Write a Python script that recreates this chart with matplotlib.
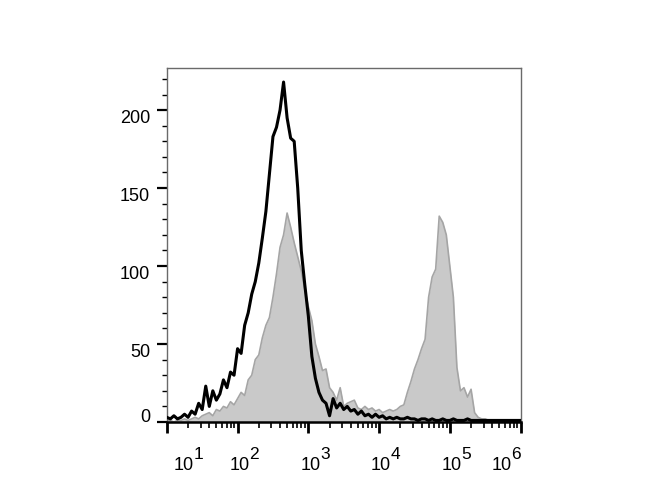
import numpy as np
import matplotlib
matplotlib.use("Agg")
import matplotlib.pyplot as plt
import matplotlib.transforms as mtransforms
from matplotlib.ticker import LogLocator, MultipleLocator, NullFormatter

plt.rcParams['font.family'] = ['Liberation Sans', 'DejaVu Sans']

# histogram channels: log10 fluorescence from 10^1 to 10^6, 0.05 decade apart
log_channels = np.linspace(1.0, 6.0, 101)

# stained sample (grey filled)
stained = [1, 1, 0, 1, 1, 2, 1, 2, 3, 2,
           4, 5, 6, 4, 8, 7, 10, 9, 13, 11,
           15, 19, 17, 27, 30, 40, 43, 54, 62, 67,
           80, 95, 112, 120, 134, 125, 115, 106, 97, 85,
           74, 65, 50, 42, 33, 34, 22, 19, 14, 22,
           10, 12, 13, 14, 9, 8, 10, 8, 9, 7,
           8, 6, 7, 8, 7, 8, 10, 11, 19, 26,
           34, 40, 47, 53, 80, 93, 98, 132, 128, 120,
           100, 80, 35, 20, 22, 16, 21, 6, 3, 2,
           2, 1, 1, 1, 1, 1, 1, 1, 1, 1, 1]

# unstained control (black line)
control = [3, 2, 4, 2, 3, 5, 3, 7, 5, 12,
           8, 23, 10, 20, 14, 18, 27, 22, 32, 30,
           47, 44, 62, 70, 82, 90, 102, 118, 135, 159,
           183, 189, 200, 218, 195, 182, 180, 150, 110, 88,
           68, 42, 28, 19, 14, 12, 4, 15, 9, 12,
           8, 10, 7, 8, 5, 7, 4, 5, 3, 5,
           3, 4, 2, 3, 2, 3, 2, 2, 3, 2,
           2, 1, 2, 2, 1, 2, 1, 1, 2, 1,
           1, 2, 1, 1, 1, 2, 1, 1, 1, 1,
           1, 1, 1, 1, 1, 1, 1, 1, 1, 1, 1]

exponents = [1, 2, 3, 4, 5, 6]
y_ticks = [0, 50, 100, 150, 200]

x = 10 ** log_channels

fig = plt.figure(figsize=(6.7, 5.0), dpi=100)
ax = fig.add_axes([0.249, 0.156, 0.528, 0.708])

ax.fill_between(x, stained, color='#c9c9c9', linewidth=0, zorder=1)
ax.plot(x, stained, color='#a5a5a5', linewidth=1.2, zorder=2)
ax.plot(x, control, color='black', linewidth=2.2, zorder=3)

ax.set_xscale('log')
ax.set_xlim(10, 1e6)
ax.set_ylim(0, 227)

ax.set_xticks([10 ** e for e in exponents])
ax.xaxis.set_minor_locator(LogLocator(base=10, subs=range(2, 10), numticks=20))
ax.xaxis.set_minor_formatter(NullFormatter())
ax.set_xticklabels([''] * len(exponents))

ax.set_yticks(y_ticks)
ax.yaxis.set_minor_locator(MultipleLocator(10))
ax.set_yticklabels([str(v) for v in y_ticks], fontsize=13)

ax.tick_params(axis='x', which='major', direction='out', length=8, width=2, color='black')
ax.tick_params(axis='x', which='minor', direction='out', length=4, width=1.2, color='black')
ax.tick_params(axis='y', which='major', direction='out', length=7, width=1.6, color='black', pad=5)
ax.tick_params(axis='y', which='minor', direction='out', length=3.5, width=1.0, color='black')

# y labels sit a little off their ticks in the original (0 above, the rest below)
for lab, v in zip(ax.get_yticklabels(), y_ticks):
    dy = 5 / 72 if v == 0 else -4.5 / 72
    lab.set_transform(lab.get_transform() + mtransforms.ScaledTranslation(0, dy, fig.dpi_scale_trans))

for side in ['top', 'right', 'left']:
    ax.spines[side].set_color('#6a6a6a')
    ax.spines[side].set_linewidth(1.0)
ax.spines['bottom'].set_color('black')
ax.spines['bottom'].set_linewidth(1.8)

# decade labels drawn as "10" plus a raised exponent, like the cytometer software
label_shift = {1: 17, 6: -19}
for e in exponents:
    dx = label_shift.get(e, 2)
    ax.annotate('10', xy=(10 ** e, 0), xycoords=('data', 'axes fraction'),
                xytext=(dx * 0.72, -31), textcoords='offset points',
                ha='center', va='center', fontsize=13, annotation_clip=False)
    ax.annotate(str(e), xy=(10 ** e, 0), xycoords=('data', 'axes fraction'),
                xytext=((dx + 14.5) * 0.72, -23.5), textcoords='offset points',
                ha='center', va='center', fontsize=12.5, annotation_clip=False)

fig.savefig('out.png', dpi=100)
